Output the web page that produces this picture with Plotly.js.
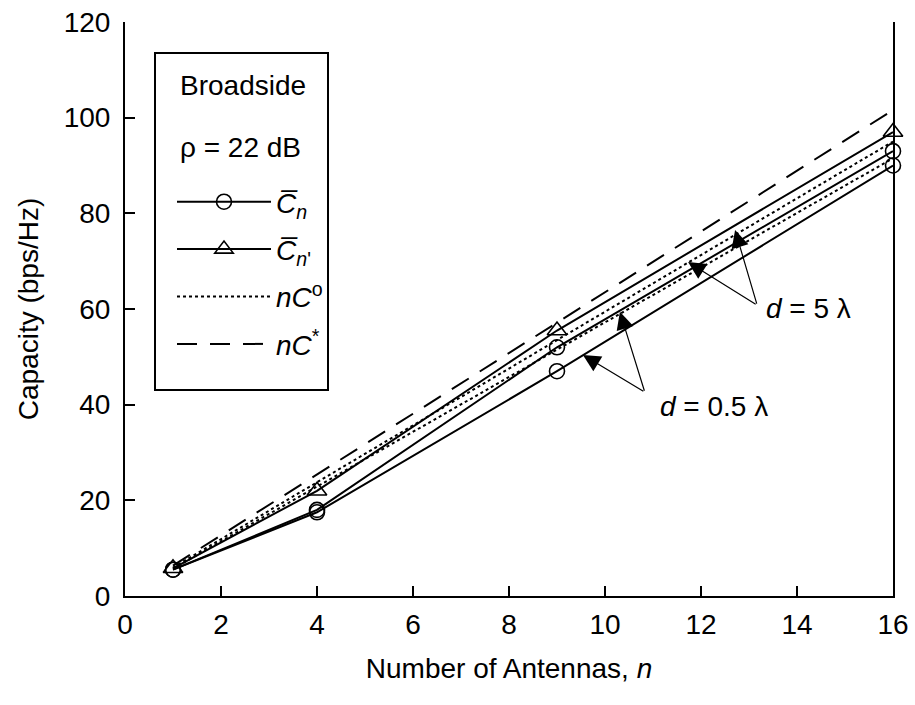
<!DOCTYPE html>
<html>
<head>
<meta charset="utf-8">
<script src="https://cdn.plot.ly/plotly-3.0.1.min.js"></script>
<style>html,body{margin:0;padding:0;background:#fff;}#chart{width:915px;height:705px;}</style>
</head>
<body>
<div id="chart"></div>
<script>
// Data
var antennas = [1, 4, 9, 16];
var capMean05 = [5.5, 17.5, 47, 90];      // C̄n, d = 0.5λ (circles)
var capMean5 = [5.5, 18, 52, 93];         // C̄n, d = 5λ (circles)
var capMeanPrime = [5.8, 22, 55.5, 97];   // C̄n' (triangles)
var nCo05 = [5.7, 22.9, 51.5, 91.5];      // nC°, d = 0.5λ (dotted)
var nCo5 = [5.94, 23.8, 53.5, 95];        // nC°, d = 5λ (dotted)
var nCstar = [6.35, 25.4, 57.2, 101.6];   // nC* (dashed)

var xTicks = [0, 2, 4, 6, 8, 10, 12, 14, 16];
var yTicks = [0, 20, 40, 60, 80, 100, 120];

var FONT = "Liberation Sans, Arial, sans-serif";
var FS = 28;

var lineStyle = {color: "black", width: 2};
var circleMarker = {symbol: "circle-open", size: 15, color: "black", line: {width: 1.6, color: "black"}};
var triMarker = {symbol: "triangle-up-open", size: 17, color: "black", line: {width: 1.6, color: "black"}};

var traces = [
  {x: antennas, y: nCstar, mode: "lines", name: "<i>nC</i><sup>*</sup>",
   line: {color: "black", width: 2, dash: "20px,13px"}, legendgroup: "d", legendrank: 4, cliponaxis: false},
  {x: antennas, y: nCo05, mode: "lines", name: "<i>nC</i><sup>o</sup>",
   line: {color: "black", width: 2, dash: "dot"}, legendgroup: "c", legendrank: 3, cliponaxis: false},
  {x: antennas, y: nCo5, mode: "lines", showlegend: false,
   line: {color: "black", width: 2, dash: "dot"}, legendgroup: "c", cliponaxis: false},
  {x: antennas, y: capMeanPrime, mode: "lines+markers", name: "<i>C\u0305</i><sub><i>n</i>'</sub>",
   line: lineStyle, marker: triMarker, legendgroup: "b", legendrank: 2, cliponaxis: false},
  {x: antennas, y: capMean5, mode: "lines+markers", showlegend: false,
   line: lineStyle, marker: circleMarker, legendgroup: "a", cliponaxis: false},
  {x: antennas, y: capMean05, mode: "lines+markers", name: "<i>C\u0305</i><sub><i>n</i></sub>",
   line: lineStyle, marker: circleMarker, legendgroup: "a", legendrank: 1, cliponaxis: false}
];

var arrowBase = {text: "", showarrow: true, arrowhead: 2, arrowsize: 2.9, arrowwidth: 1.2,
  arrowcolor: "black", axref: "x", ayref: "y", xref: "x", yref: "y"};
function arrow(tipX, tipY, tailX, tailY) {
  return Object.assign({}, arrowBase, {x: tipX, y: tipY, ax: tailX, ay: tailY});
}

var annotations = [
  arrow(12.71, 76.5, 13.17, 60.8),
  arrow(11.73, 69.8, 13.17, 60.8),
  arrow(10.31, 59.4, 10.83, 42.6),
  arrow(9.54, 50.4, 10.83, 42.6),
  {x: 14.23, y: 60.2, xref: "x", yref: "y", text: "<i>d</i> = 5 \u03bb", showarrow: false,
   font: {family: FONT, size: FS, color: "black"}},
  {x: 12.27, y: 39.7, xref: "x", yref: "y", text: "<i>d</i> = 0.5 \u03bb", showarrow: false,
   font: {family: FONT, size: FS, color: "black"}},
  {x: (178 - 125) / 768, y: (596 - 85) / 574, xref: "paper", yref: "paper", xanchor: "left", yanchor: "middle",
   text: "Broadside", showarrow: false, font: {family: FONT, size: FS, color: "black"}},
  {x: (178 - 125) / 768, y: (596 - 147) / 574, xref: "paper", yref: "paper", xanchor: "left", yanchor: "middle",
   text: "\u03c1 = 22 dB", showarrow: false, font: {family: FONT, size: FS, color: "black"}}
];

var layout = {
  width: 915, height: 705,
  margin: {l: 125, r: 22, t: 22, b: 109},
  paper_bgcolor: "white", plot_bgcolor: "white",
  font: {family: FONT, size: FS, color: "black"},
  showlegend: true,
  legend: {
    x: (172 - 125) / 768, y: (596 - 177) / 574, xanchor: "left", yanchor: "top",
    borderwidth: 0, bgcolor: "rgba(0,0,0,0)",
    itemwidth: 94, tracegroupgap: 8, traceorder: "grouped",
    font: {family: FONT, size: FS}
  },
  shapes: [{
    type: "rect", xref: "paper", yref: "paper",
    x0: (155 - 125) / 768, x1: (328 - 125) / 768, y0: (596 - 390) / 574, y1: (596 - 53) / 574,
    line: {color: "black", width: 2}, fillcolor: "white", layer: "below"
  }],
  xaxis: {
    range: [0, 16], tickvals: xTicks, ticktext: xTicks.map(String),
    showgrid: false, zeroline: false, showline: true, linecolor: "black", linewidth: 2,
    ticks: "inside", ticklen: 10, tickwidth: 2, tickcolor: "black", ticklabelstandoff: 2,
    tickfont: {family: FONT, size: FS},
    title: {text: "Number of Antennas, <i>n</i>", font: {family: FONT, size: FS}, standoff: 20}
  },
  yaxis: {
    range: [0, 120], tickvals: yTicks, ticktext: yTicks.map(String),
    showgrid: false, zeroline: false, showline: true, linecolor: "black", linewidth: 2, mirror: true,
    ticks: "inside", ticklen: 10, tickwidth: 2, tickcolor: "black", ticklabelstandoff: 7,
    tickfont: {family: FONT, size: FS},
    title: {text: "Capacity (bps/Hz)", font: {family: FONT, size: FS}, standoff: 17}
  },
  annotations: annotations
};

Plotly.newPlot("chart", traces, layout, {staticPlot: true, displayModeBar: false});
</script>
</body>
</html>
